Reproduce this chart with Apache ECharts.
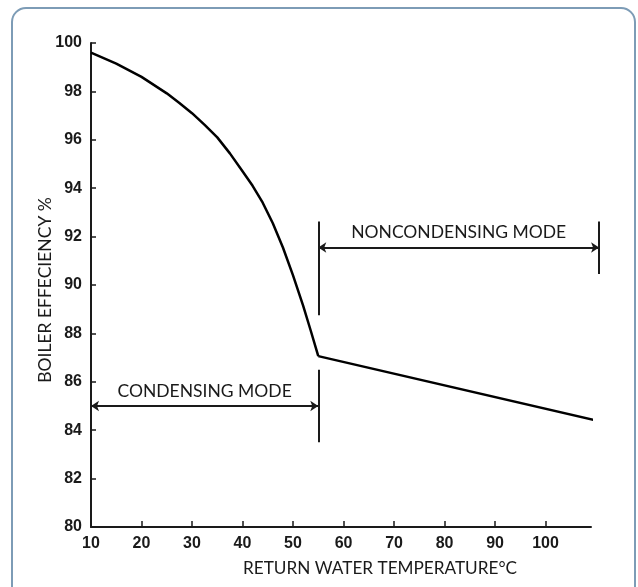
<!DOCTYPE html>
<html>

<head>
    <meta charset="utf-8">
    <script src="https://cdn.jsdelivr.net/npm/echarts@6/dist/echarts.min.js"></script>
</head>

<body style="margin:0;">
    <div id="main" style="width:638px;height:587px;"></div>

    <script>
        // efficiency curve, condensing part
        var curveX = [10, 15, 20, 25, 27.5, 30, 32.5, 35, 37.5, 40, 42, 44, 46, 48, 50, 52, 53.5, 55];
        var curveY = [99.6, 99.15, 98.6, 97.92, 97.52, 97.1, 96.62, 96.1, 95.44, 94.7, 94.1, 93.4, 92.55, 91.55, 90.4, 89.15, 88.12, 87.06];
        // noncondensing part, straight
        var flatX = [55, 110];
        var flatY = [87.06, 84.4];
        // mode arrows: [x start, x end, y]
        var modeNames = ['CONDENSING MODE', 'NONCONDENSING MODE'];
        var modeArrows = [[10, 55, 85], [55, 110.6, 91.55]];
        // vertical bars: [x, y top, y bottom]
        var modeBars = [[55, 92.62, 88.75], [55, 86.5, 83.5], [110.6, 92.62, 90.45]];
        var yTicks = [80, 100, 2];
        var xTicks = [10, 109, 10];

        var myChart = echarts.init(document.getElementById('main'));

        function pairs(xs, ys) {
            return xs.map(function (x, i) { return [x, ys[i]]; });
        }

        var ink = '#1a1a1a';
        var tickFont = { color: ink, fontSize: 16, fontWeight: 'bold', fontFamily: 'Liberation Sans' };

        option = {
            backgroundColor: '#ffffff',
            animation: false,
            grid: {
                left: 91,
                right: 47,
                top: 43,
                bottom: 60
            },
            xAxis: {
                type: 'value',
                min: xTicks[0],
                max: xTicks[1],
                interval: xTicks[2],
                splitLine: { show: false },
                axisLine: { lineStyle: { color: ink, width: 2 } },
                axisTick: { inside: true, length: 6, lineStyle: { color: ink, width: 1.5 } },
                axisLabel: Object.assign({ margin: 9, showMaxLabel: false }, tickFont)
            },
            yAxis: {
                type: 'value',
                min: yTicks[0],
                max: yTicks[1],
                interval: yTicks[2],
                splitLine: { show: false },
                axisLine: { lineStyle: { color: ink, width: 2 } },
                axisTick: { inside: true, length: 5, lineStyle: { color: ink, width: 1.5 } },
                axisLabel: Object.assign({ margin: 9 }, tickFont)
            },
            graphic: [
                {
                    type: 'rect',
                    z: -10,
                    shape: { x: 12, y: 8, width: 623, height: 592, r: 14 },
                    style: { fill: 'none', stroke: '#7d9cb6', lineWidth: 2 }
                },
                {
                    type: 'text',
                    left: 243,
                    top: 560,
                    style: {
                        text: 'RETURN WATER TEMPERATURE°C',
                        fill: ink,
                        font: '17.2px Lato'
                    }
                },
                {
                    type: 'text',
                    x: 45,
                    y: 290,
                    rotation: Math.PI / 2,
                    style: {
                        text: 'BOILER EFFECIENCY %',
                        fill: ink,
                        font: '17.5px Lato',
                        align: 'center',
                        verticalAlign: 'middle'
                    }
                }
            ],
            series: [
                {
                    type: 'line',
                    symbol: 'none',
                    clip: false,
                    lineStyle: { color: '#000', width: 2.5, join: 'round' },
                    data: pairs(curveX, curveY)
                },
                {
                    type: 'line',
                    symbol: 'none',
                    clip: false,
                    lineStyle: { color: '#000', width: 2.5 },
                    data: pairs(flatX, flatY)
                },
                {
                    type: 'lines',
                    coordinateSystem: 'cartesian2d',
                    clip: false,
                    symbol: ['arrow', 'arrow'],
                    symbolSize: 8,
                    lineStyle: { color: ink, width: 1.8, opacity: 1 },
                    label: {
                        show: true,
                        position: 'middle',
                        distance: 6,
                        formatter: '{b}',
                        color: ink,
                        fontSize: 17.5,
                        fontFamily: 'Lato'
                    },
                    data: modeArrows.map(function (a, i) {
                        return { name: modeNames[i], coords: [[a[0], a[2]], [a[1], a[2]]] };
                    })
                },
                {
                    type: 'lines',
                    coordinateSystem: 'cartesian2d',
                    clip: false,
                    symbol: 'none',
                    lineStyle: { color: ink, width: 2, opacity: 1 },
                    data: modeBars.map(function (b) {
                        return { coords: [[b[0], b[1]], [b[0], b[2]]] };
                    })
                }
            ]
        };

        myChart.setOption(option);
    </script>
</body>

</html>
